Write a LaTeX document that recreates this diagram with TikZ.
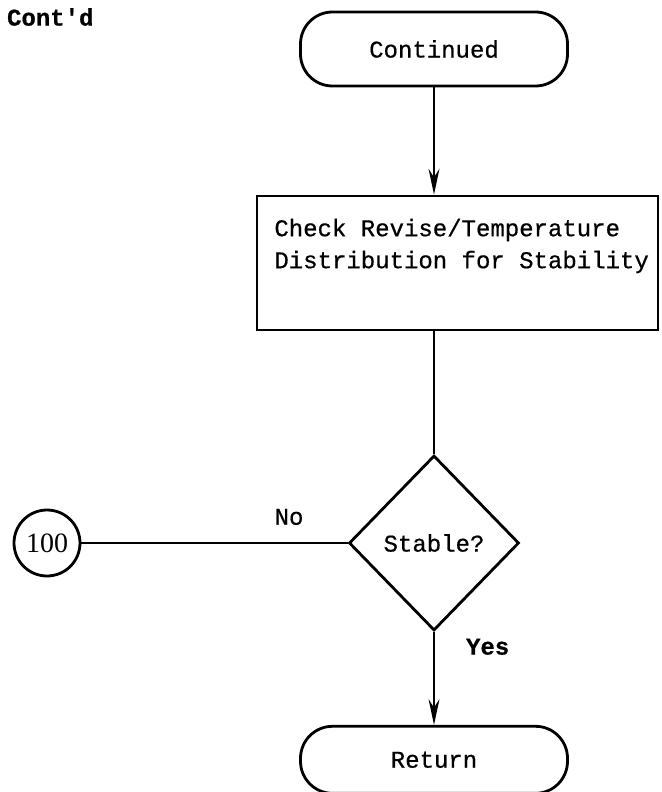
\documentclass[tikz,border=0pt]{standalone}
\usepackage{fontspec}
\setmonofont{Liberation Mono}[FakeBold=0.6]
\newfontfamily\numfont{Liberation Serif}
\usetikzlibrary{arrows.meta, positioning, shapes.geometric}

\begin{document}
\begin{tikzpicture}[
        x=0.5pt, y=-0.5pt,
        font=\ttfamily\fontsize{12}{16}\selectfont,
        term/.style={draw, line width=1.4pt, rounded corners=16pt, minimum width=133.5pt, minimum height=37pt},
        box/.style={draw, line width=1.4pt, minimum width=200.5pt, minimum height=67pt},
        decision/.style={draw, diamond, line width=1.4pt, minimum width=85pt, minimum height=87.5pt, inner sep=0pt},
        connector/.style={draw, circle, line width=1.4pt, minimum size=33pt, inner sep=0pt, font=\numfont\fontsize{14}{16}\selectfont},
        line/.style={line width=1.4pt},
        arrow/.style={-{Stealth[length=4.5mm, width=1.9mm]}, line width=1.4pt}
    ]
    \useasboundingbox (0,0) rectangle (662,792);
    \node[anchor=west, font=\ttfamily\bfseries\fontsize{12}{16}\selectfont] (contd) at (0,17) {Cont'd};
    \node[term] (cont) at (434,49) {Continued};
    \node[box] (check) at (457.5,263) {};
    \node[anchor=west, align=left, inner sep=0pt] (checktext) at (274,246) {Check Revise/Temperature\\Distribution for Stability};
    \node[decision] (stable) at (434,543) {Stable?};
    \node[connector] (c100) at (47,543) {100};
    \node[term, below=46.5pt of stable, minimum height=33.5pt] (ret) {Return};
    \draw[arrow] (cont) -- (cont.south |- check.north);
    \draw[line] (cont.south |- check.south) -- (stable.north);
    \draw[line] (stable) -- node[above=5pt, pos=0.22]{No} (c100);
    \draw[arrow] (stable) -- node[right=12pt, pos=0.16, font=\ttfamily\bfseries\fontsize{12}{16}\selectfont]{Yes} (ret);
    \end{tikzpicture}
\end{document}
